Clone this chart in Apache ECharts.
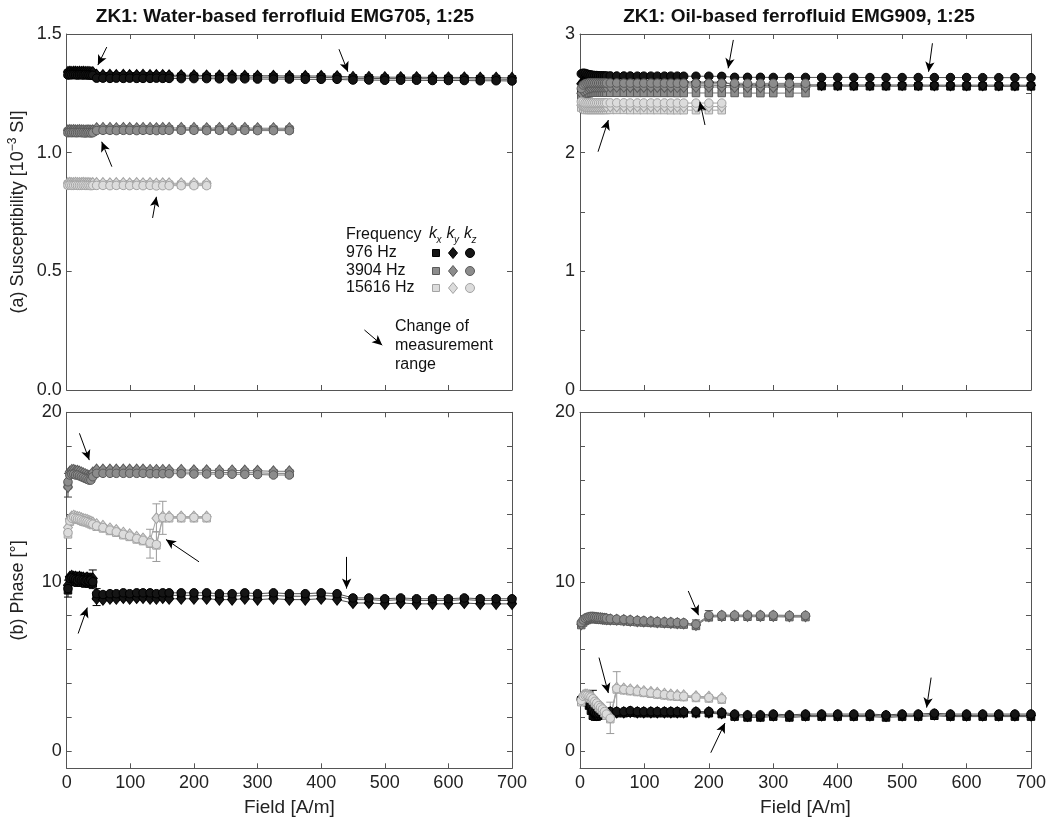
<!DOCTYPE html>
<html><head><meta charset="utf-8">
<script src="https://cdn.jsdelivr.net/npm/echarts/dist/echarts.min.js"></script>
<style>html,body{margin:0;padding:0;background:#fff;}#c{width:1049px;height:822px;}</style>
</head><body><div id="c"></div>
<script>
// ---------------- DATA ----------------
const FIELD = [2, 5, 8, 11, 14, 17, 20, 23, 26, 29, 32, 35, 38, 41, 47, 57, 68, 78, 89, 99, 110, 120, 131, 141, 151, 161, 180, 200, 220, 240, 260, 280, 300, 325, 350, 375, 400, 425, 450, 475, 500, 525, 550, 575, 600, 625, 650, 675, 700];
const X_TICKS = [0, 100, 200, 300, 400, 500, 600, 700];
const TITLES = ['ZK1: Water-based ferrofluid EMG705, 1:25', 'ZK1: Oil-based ferrofluid EMG909, 1:25'];
const FREQS = ['976 Hz', '3904 Hz', '15616 Hz'];

// (a) water-based susceptibility [10^-3 SI]
const W_SUS_976_KX = [1.333,1.334,1.334,1.335,1.334,1.334,1.335,1.334,1.334,1.335,1.334,1.333,1.334,1.333, 1.322,1.321,1.322,1.321,1.322,1.321,1.321,1.322,1.321,1.321,1.321,1.320, 1.320,1.320,1.319,1.319,1.319,1.318,1.318,1.318,1.317,1.317,1.317,1.316, 1.313,1.313,1.312,1.312,1.312,1.311,1.311,1.311,1.310,1.310,1.309];
const W_SUS_976_KY = [1.340,1.341,1.340,1.341,1.341,1.340,1.341,1.340,1.341,1.340,1.340,1.340,1.339,1.339, 1.328,1.327,1.328,1.327,1.328,1.327,1.327,1.328,1.327,1.327,1.327,1.326, 1.326,1.326,1.325,1.325,1.325,1.324,1.324,1.324,1.323,1.323,1.323,1.322, 1.319,1.319,1.318,1.318,1.318,1.317,1.317,1.317,1.316,1.316,1.315];
const W_SUS_976_KZ = [1.327,1.328,1.328,1.329,1.328,1.327,1.328,1.328,1.327,1.328,1.327,1.327,1.326,1.326, 1.314,1.314,1.313,1.314,1.313,1.314,1.313,1.313,1.313,1.314,1.313,1.313, 1.312,1.312,1.312,1.311,1.311,1.311,1.310,1.310,1.310,1.309,1.309,1.309, 1.306,1.306,1.305,1.305,1.305,1.304,1.304,1.304,1.303,1.303,1.302];
const W_SUS_3904_KX = [1.088,1.089,1.088,1.089,1.088,1.088,1.089,1.088,1.088,1.087,1.088,1.088,1.087,1.088, 1.097,1.098,1.098,1.097,1.098,1.098,1.097,1.098,1.098,1.097,1.098,1.098, 1.098,1.098,1.097,1.098,1.097,1.098,1.097,1.097,1.097];
const W_SUS_3904_KY = [1.094,1.095,1.094,1.095,1.094,1.094,1.095,1.094,1.094,1.093,1.094,1.094,1.093,1.094, 1.103,1.104,1.104,1.103,1.104,1.104,1.103,1.104,1.104,1.103,1.104,1.104, 1.104,1.104,1.103,1.104,1.103,1.104,1.103,1.103,1.103];
const W_SUS_3904_KZ = [1.084,1.085,1.084,1.085,1.084,1.084,1.085,1.084,1.084,1.083,1.084,1.084,1.083,1.084, 1.093,1.094,1.094,1.093,1.094,1.094,1.093,1.094,1.094,1.093,1.094,1.094, 1.094,1.094,1.093,1.094,1.093,1.094,1.093,1.093,1.093];
const W_SUS_15616_KX = [0.866,0.867,0.866,0.866,0.867,0.866,0.866,0.866,0.867,0.866,0.866,0.866,0.865,0.866, 0.866,0.866,0.865,0.866,0.866,0.865,0.866,0.865,0.866,0.864,0.865,0.865, 0.865,0.865,0.865];
const W_SUS_15616_KY = [0.872,0.873,0.872,0.872,0.873,0.872,0.872,0.872,0.873,0.872,0.872,0.872,0.871,0.872, 0.872,0.872,0.871,0.872,0.872,0.871,0.872,0.871,0.872,0.870,0.871,0.871, 0.871,0.871,0.871];
const W_SUS_15616_KZ = [0.862,0.863,0.862,0.862,0.863,0.862,0.862,0.862,0.863,0.862,0.862,0.862,0.861,0.862, 0.862,0.862,0.861,0.862,0.862,0.861,0.862,0.861,0.862,0.860,0.861,0.861, 0.861,0.861,0.861];

// (a) oil-based susceptibility [10^-3 SI]
const O_SUS_976_KX = [2.50,2.53,2.55,2.56,2.56,2.565,2.57,2.57,2.57,2.57,2.572,2.572,2.572,2.572, 2.572,2.572,2.571,2.571,2.571,2.571,2.570,2.570,2.570,2.570,2.570,2.570, 2.570,2.569,2.569, 2.562,2.562,2.562,2.561,2.561,2.561,2.561,2.561,2.560,2.560,2.560,2.560,2.560,2.560,2.559,2.559,2.559,2.559,2.559,2.559];
const O_SUS_976_KY = [2.58,2.60,2.61,2.61,2.615,2.615,2.615,2.612,2.612,2.612,2.61,2.61,2.61,2.61, 2.598,2.598,2.597,2.597,2.597,2.596,2.596,2.596,2.596,2.595,2.595,2.595, 2.595,2.594,2.594, 2.572,2.572,2.571,2.571,2.571,2.571,2.571,2.570,2.570,2.570,2.570,2.570,2.570,2.569,2.569,2.569,2.569,2.569,2.569,2.568];
const O_SUS_976_KZ = [2.665,2.670,2.668,2.662,2.658,2.655,2.652,2.650,2.650,2.648,2.648,2.648,2.647,2.647, 2.647,2.646,2.646,2.646,2.645,2.645,2.645,2.645,2.645,2.645,2.645,2.644, 2.644,2.644,2.643, 2.635,2.635,2.635,2.634,2.634,2.634,2.634,2.634,2.634,2.633,2.633,2.633,2.633,2.633,2.633,2.633,2.632,2.632,2.632,2.632];
const O_SUS_3904_KX = [2.46,2.48,2.49,2.50,2.50,2.505,2.505,2.505,2.505,2.505,2.505,2.505,2.505,2.505, 2.505,2.505,2.505,2.504,2.504,2.504,2.504,2.504,2.504,2.504,2.503,2.503, 2.503,2.503,2.503,2.503,2.502,2.502,2.502,2.502,2.502];
const O_SUS_3904_KY = [2.50,2.52,2.53,2.54,2.545,2.55,2.555,2.555,2.555,2.555,2.555,2.555,2.555,2.555, 2.555,2.555,2.555,2.554,2.554,2.554,2.554,2.554,2.554,2.554,2.553,2.553, 2.553,2.553,2.553,2.553,2.552,2.552,2.552,2.552,2.552];
const O_SUS_3904_KZ = [2.54,2.57,2.58,2.585,2.588,2.588,2.588,2.588,2.588,2.587,2.587,2.587,2.587,2.587, 2.587,2.587,2.586,2.586,2.586,2.586,2.586,2.586,2.586,2.585,2.585,2.585, 2.585,2.585,2.585,2.585,2.584,2.584,2.584,2.584,2.584];
const O_SUS_15616_KX = [2.38,2.37,2.36,2.36,2.36,2.36,2.36,2.36,2.36,2.36,2.36,2.36,2.36,2.36, 2.360,2.360,2.360,2.359,2.359,2.359,2.359,2.359,2.359,2.358,2.358,2.358, 2.358,2.358,2.358];
const O_SUS_15616_KY = [2.40,2.395,2.39,2.39,2.39,2.39,2.39,2.39,2.39,2.39,2.39,2.39,2.39,2.39, 2.39,2.39,2.39,2.389,2.389,2.389,2.389,2.389,2.389,2.388,2.388,2.388, 2.388,2.388,2.388];
const O_SUS_15616_KZ = [2.43,2.425,2.42,2.42,2.42,2.42,2.42,2.42,2.42,2.42,2.42,2.42,2.42,2.42, 2.42,2.42,2.42,2.419,2.419,2.419,2.419,2.419,2.419,2.418,2.418,2.418, 2.418,2.418,2.418];

// (b) water-based phase [deg]
const W_PH_976_KX = [9.5,10.0,10.1,10.05,10.0,9.95,10.0,9.95,9.95,9.9,9.95,9.9,9.95,9.9, 9.15,9.1,9.15,9.15,9.2,9.15,9.2,9.2,9.2,9.15,9.2,9.2, 9.2,9.2,9.2,9.15,9.15,9.2,9.15,9.2,9.15,9.15,9.2,9.15, 8.95,8.95,8.9,8.95,8.9,8.9,8.9,8.95,8.9,8.9,8.9];
const W_PH_976_KY = [9.8,10.3,10.35,10.3,10.3,10.25,10.3,10.25,10.25,10.2,10.25,10.2,10.2,10.2, 9.0,8.95,9.0,9.0,9.05,9.0,9.05,9.05,9.0,9.0,9.05,9.0, 9.0,9.0,9.0,8.95,8.95,9.0,8.95,9.0,8.95,8.95,9.0,8.95, 8.75,8.75,8.7,8.75,8.7,8.7,8.7,8.75,8.7,8.7,8.7];
const W_PH_976_KZ = [9.6,10.2,10.25,10.2,10.15,10.1,10.15,10.1,10.1,10.05,10.1,10.05,10.1,10.0, 9.3,9.25,9.3,9.3,9.35,9.3,9.35,9.35,9.35,9.3,9.35,9.35, 9.35,9.35,9.35,9.3,9.3,9.35,9.3,9.35,9.3,9.3,9.35,9.3, 9.05,9.05,9.0,9.05,9.0,9.0,9.0,9.05,9.0,9.0,9.0];
const W_PH_3904_KX = [15.7,16.35,16.45,16.45,16.4,16.4,16.35,16.3,16.25,16.2,16.15,16.1,16.1,16.3, 16.5,16.5,16.5,16.5,16.5,16.5,16.5,16.5,16.48,16.48,16.48,16.48, 16.48,16.46,16.46,16.45,16.45,16.44,16.43,16.4,16.4];
const W_PH_3904_KY = [15.6,16.5,16.6,16.6,16.55,16.55,16.5,16.45,16.4,16.35,16.3,16.25,16.25,16.45, 16.62,16.62,16.62,16.62,16.62,16.62,16.62,16.62,16.6,16.6,16.6,16.6, 16.6,16.58,16.58,16.57,16.57,16.56,16.55,16.52,16.52];
const W_PH_3904_KZ = [15.9,16.3,16.35,16.35,16.3,16.3,16.25,16.2,16.15,16.1,16.05,16.0,16.0,16.2, 16.4,16.4,16.4,16.4,16.4,16.4,16.4,16.4,16.38,16.38,16.38,16.38, 16.38,16.36,16.36,16.35,16.35,16.34,16.33,16.3,16.3];
const W_PH_15616_KX = [12.8,13.55,13.7,13.75,13.7,13.68,13.65,13.6,13.55,13.52,13.5,13.45,13.4,13.35, 13.25,13.15,13.0,12.9,12.75,12.65,12.5,12.4,12.25,12.15,13.75,13.75, 13.75,13.75,13.75];
const W_PH_15616_KY = [13.2,13.7,13.85,13.9,13.85,13.82,13.8,13.75,13.7,13.68,13.65,13.6,13.55,13.5, 13.4,13.3,13.15,13.05,12.9,12.8,12.65,12.55,12.4,13.75,13.85,13.85, 13.85,13.85,13.85];
const W_PH_15616_KZ = [12.9,13.6,13.75,13.8,13.75,13.72,13.7,13.65,13.6,13.58,13.55,13.5,13.45,13.4, 13.3,13.2,13.05,12.95,12.8,12.7,12.55,12.45,12.3,12.2,13.8,13.8, 13.8,13.8,13.8];

// (b) oil-based phase [deg]
const O_PH_976_KX = [3.0,3.1,3.0,2.9,2.7,2.4,2.1,2.05,2.05,2.1,2.15,2.2,2.22,2.22, 2.25,2.25,2.25,2.28,2.25,2.25,2.25,2.25,2.25,2.25,2.25,2.25, 2.25,2.25,2.2, 2.05,2.0,2.0,2.05,2.0,2.05,2.05,2.05,2.05,2.05,2.0,2.05,2.05,2.1,2.05,2.05,2.05,2.05,2.05,2.05];
const O_PH_976_KY = [3.05,3.15,3.05,2.95,2.8,2.55,2.3,2.2,2.15,2.18,2.22,2.25,2.27,2.27, 2.3,2.3,2.3,2.33,2.3,2.3,2.3,2.3,2.3,2.3,2.3,2.3, 2.3,2.3,2.25, 2.12,2.08,2.08,2.12,2.08,2.12,2.12,2.12,2.12,2.12,2.08,2.12,2.12,2.17,2.12,2.12,2.12,2.12,2.12,2.12];
const O_PH_976_KZ = [3.1,3.2,3.1,3.0,2.9,2.7,2.45,2.3,2.25,2.25,2.3,2.3,2.3,2.3, 2.35,2.35,2.35,2.4,2.35,2.35,2.35,2.35,2.35,2.35,2.35,2.35, 2.35,2.35,2.3, 2.2,2.15,2.15,2.2,2.15,2.2,2.2,2.2,2.2,2.2,2.15,2.2,2.2,2.25,2.2,2.2,2.2,2.2,2.2,2.2];
const O_PH_3904_KX = [7.45,7.6,7.7,7.75,7.8,7.82,7.82,7.8,7.8,7.78,7.78,7.76,7.75,7.74, 7.72,7.7,7.68,7.65,7.62,7.6,7.58,7.56,7.54,7.52,7.5,7.48, 7.4,7.92,7.94,7.94,7.94,7.94,7.94,7.92,7.92];
const O_PH_3904_KY = [7.5,7.7,7.8,7.85,7.88,7.9,7.9,7.88,7.87,7.85,7.85,7.83,7.82,7.8, 7.78,7.76,7.74,7.71,7.68,7.66,7.64,7.62,7.6,7.58,7.56,7.54, 7.45,7.97,7.99,7.99,7.99,7.99,7.99,7.97,7.97];
const O_PH_3904_KZ = [7.6,7.75,7.85,7.9,7.92,7.95,7.95,7.93,7.92,7.9,7.9,7.88,7.87,7.85, 7.82,7.8,7.78,7.75,7.72,7.7,7.68,7.66,7.64,7.62,7.6,7.58, 7.5,8.02,8.04,8.04,8.04,8.04,8.04,8.02,8.02];
const O_PH_15616_KX = [2.9,3.15,3.2,3.2,3.15,3.1,3.0,2.85,2.75,2.6,2.5,2.4,2.25,2.1, 1.9,3.65,3.6,3.55,3.5,3.45,3.4,3.35,3.3,3.25,3.22,3.2, 3.15,3.12,3.05];
const O_PH_15616_KY = [3.05,3.3,3.35,3.35,3.3,3.25,3.15,3.0,2.9,2.75,2.65,2.55,2.4,2.25, 2.0,3.75,3.7,3.65,3.6,3.55,3.5,3.45,3.4,3.35,3.32,3.3, 3.25,3.22,3.15];
const O_PH_15616_KZ = [3.0,3.25,3.3,3.3,3.25,3.2,3.1,2.95,2.85,2.7,2.6,2.5,2.35,2.2, 1.95,3.7,3.65,3.6,3.55,3.5,3.45,3.4,3.35,3.3,3.27,3.25, 3.2,3.17,3.1];

// error bars [field, low, high]
const W_PH_976_ERR = [[2, 9.1, 10.1], [41, 9.6, 10.7], [47, 8.6, 9.6]];
const W_PH_3904_ERR = [[2, 15.0, 16.4]];
const W_PH_15616_ERR = [[131, 11.4, 13.1], [141, 11.2, 12.95], [141, 12.95, 14.6], [151, 12.8, 14.75]];
const O_PH_976_ERR = [[20, 1.95, 3.6]];
const O_PH_3904_ERR = [[180, 7.25, 7.75], [200, 7.7, 8.3]];
const O_PH_15616_ERR = [[47, 1.05, 2.9], [57, 2.4, 4.7]];

// "change of measurement range" arrows [fromX, fromY, toX, toY] in data units
const ARROWS_W_SUS = [[63, 1.445, 49, 1.369], [428, 1.436, 442, 1.341], [71, 0.941, 55, 1.046], [135, 0.725, 141, 0.814], [468, 0.253, 496, 0.189]];
const ARROWS_O_SUS = [[238, 2.95, 230, 2.711], [547, 2.922, 541, 2.682], [28, 2.008, 44, 2.275], [194, 2.233, 186, 2.43]];
const ARROWS_W_PH = [[20, 18.76, 35.5, 17.18], [208, 11.18, 156, 12.5], [440, 11.47, 440, 9.6], [18, 6.95, 32.4, 8.48]];
const ARROWS_O_PH = [[168, 9.46, 184, 8.03], [29.5, 5.53, 44, 3.44], [545, 4.35, 538, 2.58], [203, -0.08, 225, 1.67]];

// ---------------- CHART ----------------
const FONT = '"Liberation Sans", Arial, Helvetica, sans-serif';
const AX = '#555';
const STY = [
  {fill: '#151515', border: '#000000', line: '#505050', err: '#000000'},
  {fill: '#8c8c8c', border: '#5a5a5a', line: '#787878', err: '#404040'},
  {fill: '#dcdcdc', border: '#a3a3a3', line: '#a6a6a6', err: '#9a9a9a'}
];
const SYMS = [
  {symbol: 'rect', size: [7.5, 7.5]},
  {symbol: 'diamond', size: [9, 11]},
  {symbol: 'circle', size: 8.5}
];

const PANELS = [
  {sets: [[W_SUS_976_KX, W_SUS_976_KY, W_SUS_976_KZ], [W_SUS_3904_KX, W_SUS_3904_KY, W_SUS_3904_KZ], [W_SUS_15616_KX, W_SUS_15616_KY, W_SUS_15616_KZ]], errs: [], arrows: ARROWS_W_SUS},
  {sets: [[O_SUS_976_KX, O_SUS_976_KY, O_SUS_976_KZ], [O_SUS_3904_KX, O_SUS_3904_KY, O_SUS_3904_KZ], [O_SUS_15616_KX, O_SUS_15616_KY, O_SUS_15616_KZ]], errs: [], arrows: ARROWS_O_SUS},
  {sets: [[W_PH_976_KX, W_PH_976_KY, W_PH_976_KZ], [W_PH_3904_KX, W_PH_3904_KY, W_PH_3904_KZ], [W_PH_15616_KX, W_PH_15616_KY, W_PH_15616_KZ]], errs: [W_PH_976_ERR, W_PH_3904_ERR, W_PH_15616_ERR], arrows: ARROWS_W_PH},
  {sets: [[O_PH_976_KX, O_PH_976_KY, O_PH_976_KZ], [O_PH_3904_KX, O_PH_3904_KY, O_PH_3904_KZ], [O_PH_15616_KX, O_PH_15616_KY, O_PH_15616_KZ]], errs: [O_PH_976_ERR, O_PH_3904_ERR, O_PH_15616_ERR], arrows: ARROWS_O_PH}
];

const grids = [
  {left: 66.7, top: 34, width: 445.3, height: 356},
  {left: 580, top: 34, width: 451, height: 356},
  {left: 66.7, top: 412.3, width: 445.3, height: 356},
  {left: 580, top: 412.3, width: 451, height: 356}
];

const labelStyle = {fontSize: 18, color: '#222', fontFamily: FONT};
const xAxis = [], yAxis = [];
grids.forEach((g, gi) => {
  const bottomRow = gi >= 2;
  const common = {gridIndex: gi, type: 'value', min: 0, max: 700, interval: 100,
    axisLine: {show: true, onZero: false, lineStyle: {color: AX, width: 1}},
    axisTick: {show: true, inside: true, length: 5, lineStyle: {color: AX}},
    splitLine: {show: false}};
  xAxis.push(Object.assign({}, common, {position: 'bottom',
    axisLabel: Object.assign({show: bottomRow, margin: 6}, labelStyle),
    name: bottomRow ? 'Field [A/m]' : '', nameLocation: 'middle', nameGap: 30,
    nameTextStyle: {fontSize: 19, color: '#222', fontFamily: FONT}}));
  xAxis.push(Object.assign({}, common, {position: 'top', axisLabel: {show: false}}));
});
const ySpecs = [
  {min: 0, max: 1.5, interval: 0.5, ticks: null, labels: null, fmt: v => v.toFixed(1), name: '(a) Susceptibility [10{sup|−3} SI]'},
  {min: 0, max: 3, interval: 0.5, ticks: null, labels: [0, 1, 2, 3], fmt: v => String(v), name: ''},
  {min: -1, max: 20, interval: 1, ticks: [0, 2, 4, 6, 8, 10, 12, 14, 16, 18, 20], labels: [0, 10, 20], fmt: v => String(v), name: '(b) Phase [°]'},
  {min: -1, max: 20, interval: 1, ticks: [0, 2, 4, 6, 8, 10, 12, 14, 16, 18, 20], labels: [0, 10, 20], fmt: v => String(v), name: ''}
];
ySpecs.forEach((s, gi) => {
  const tick = {show: true, inside: true, length: 5, lineStyle: {color: AX}};
  if (s.ticks) tick.customValues = s.ticks;
  const lab = Object.assign({show: true, margin: 5, formatter: s.fmt}, labelStyle);
  if (s.labels) lab.customValues = s.labels;
  const common = {gridIndex: gi, type: 'value', min: s.min, max: s.max, interval: s.interval,
    axisLine: {show: true, onZero: false, lineStyle: {color: AX, width: 1}},
    splitLine: {show: false}};
  yAxis.push(Object.assign({}, common, {position: 'left', axisTick: tick, axisLabel: lab,
    name: s.name, nameLocation: 'middle', nameGap: 38,
    nameTextStyle: {fontSize: 18, color: '#222', fontFamily: FONT, lineHeight: 22,
      rich: {sup: {fontSize: 12, lineHeight: 12, verticalAlign: 'top', color: '#222', fontFamily: FONT}}}}));
  yAxis.push(Object.assign({}, common, {position: 'right', axisTick: Object.assign({}, tick), axisLabel: {show: false}}));
});

const series = [];
PANELS.forEach((p, gi) => {
  p.sets.forEach((trip, fi) => {
    trip.forEach((vals, ki) => {
      const st = STY[fi], sy = SYMS[ki];
      const s = {
        type: 'line', name: FREQS[fi] + ' k' + ['x', 'y', 'z'][ki],
        xAxisIndex: 2 * gi, yAxisIndex: 2 * gi,
        data: vals.map((v, i) => [FIELD[i], v]),
        symbol: sy.symbol, symbolSize: sy.size, showSymbol: true, showAllSymbol: true,
        itemStyle: {color: st.fill, borderColor: st.border, borderWidth: 1},
        lineStyle: {color: st.line, width: 1},
        emphasis: {disabled: true}, silent: true, animation: false
      };
      series.push(s);
    });
  });
  p.errs.forEach((arr, fi) => {
    if (!arr.length) return;
    const col = STY[fi].err;
    series.push({
      type: 'custom', xAxisIndex: 2 * gi, yAxisIndex: 2 * gi, silent: true, animation: false,
      data: arr, encode: {x: 0, y: [1, 2]},
      renderItem: (params, api) => {
        const x = api.value(0);
        const a = api.coord([x, api.value(1)]), b = api.coord([x, api.value(2)]);
        const w = 4, ls = {stroke: col, lineWidth: 1};
        return {type: 'group', children: [
          {type: 'line', shape: {x1: a[0], y1: a[1], x2: b[0], y2: b[1]}, style: ls},
          {type: 'line', shape: {x1: a[0] - w, y1: a[1], x2: a[0] + w, y2: a[1]}, style: ls},
          {type: 'line', shape: {x1: b[0] - w, y1: b[1], x2: b[0] + w, y2: b[1]}, style: ls}
        ]};
      }
    });
  });
  series.push({
    type: 'scatter', xAxisIndex: 2 * gi, yAxisIndex: 2 * gi, data: [], silent: true, animation: false,
    markLine: {
      silent: true, animation: false, symbol: ['none', 'arrow'], symbolSize: [7, 10],
      label: {show: false}, emphasis: {disabled: true},
      lineStyle: {color: '#000', width: 1, type: 'solid'},
      data: p.arrows.map(a => [{coord: [a[0], a[1]]}, {coord: [a[2], a[3]]}])
    }
  });
});

// titles + inset legend
const graphic = [];
const TITLE_X = [285, 799];
TITLES.forEach((t, i) => graphic.push({type: 'text', x: TITLE_X[i], y: 17,
  style: {text: t, align: 'center', verticalAlign: 'middle', fontSize: 19, fontWeight: 'bold', fontFamily: FONT, fill: '#111'}}));
const LEG_ROWS = [253, 271, 288];
const txt = (s, x, y, extra) => ({type: 'text', x, y, style: Object.assign({text: s, align: 'left', verticalAlign: 'middle', fontSize: 16, fontFamily: FONT, fill: '#111'}, extra || {})});
graphic.push(txt('Frequency', 346, 235));
['x', 'y', 'z'].forEach((c, i) => {
  const x0 = 429 + i * 17.5;
  graphic.push(txt('k', x0, 234, {fontStyle: 'italic'}));
  graphic.push(txt(c, x0 + 7.5, 240, {fontStyle: 'italic', fontSize: 10}));
});
FREQS.forEach((f, r) => {
  const cy = LEG_ROWS[r], st = STY[r];
  graphic.push(txt(f, 346, cy));
  const ps = {fill: st.fill, stroke: st.border, lineWidth: 1};
  graphic.push({type: 'rect', shape: {x: 432.5, y: cy - 3.5, width: 7, height: 7}, style: ps});
  graphic.push({type: 'polygon', shape: {points: [[453, cy - 5.5], [457.5, cy], [453, cy + 5.5], [448.5, cy]]}, style: ps});
  graphic.push({type: 'circle', shape: {cx: 470, cy: cy, r: 4.5}, style: ps});
});
graphic.push(txt('Change of', 395, 327));
graphic.push(txt('measurement', 395, 346));
graphic.push(txt('range', 395, 365));

const chart = echarts.init(document.getElementById('c'), null, {renderer: 'canvas'});
chart.setOption({
  animation: false,
  backgroundColor: '#ffffff',
  grid: grids,
  xAxis, yAxis, series, graphic
});
</script>
</body></html>
